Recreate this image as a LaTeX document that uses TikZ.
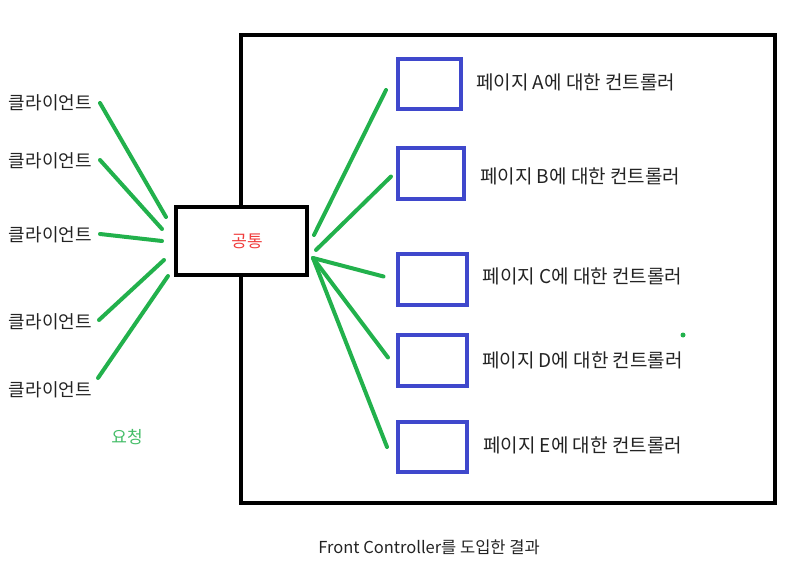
\documentclass[tikz,border=0pt]{standalone}
\usepackage{fontspec}
\setmainfont{Noto Sans CJK KR}
\usetikzlibrary{positioning}

\definecolor{paintgreen}{RGB}{34,177,76}
\definecolor{paintblue}{RGB}{63,72,204}
\definecolor{painttext}{RGB}{35,35,35}
\definecolor{paintred}{RGB}{240,60,60}

\begin{document}
\begin{tikzpicture}[
    x=1pt, y=-1pt,
    every node/.style={font=\fontsize{17}{20}\selectfont, text=painttext},
    client/.style={anchor=east, inner sep=2pt, font=\fontsize{18}{21}\selectfont},
    server/.style={rectangle, draw=black, line width=4pt, minimum width=534pt, minimum height=468pt},
    frontbox/.style={rectangle, draw=black, fill=white, line width=4pt, minimum width=131pt, minimum height=68pt},
    ctrl/.style={rectangle, draw=paintblue, line width=4pt, minimum width=69pt, minimum height=51pt},
    ctrllabel/.style={anchor=west, inner sep=0pt, font=\fontsize{19}{22}\selectfont},
    request/.style={draw=paintgreen, line width=4pt, line cap=round}
]
\useasboundingbox (0,0) rectangle (794,575);

% 서버 영역
\node[server] (server) at (508,269) {};

% 공통 처리
\node[frontbox] (common) at (241.5,241) {};
\node[text=paintred] (commonlabel) at (247,241) {공통};

% 클라이언트
\node[client] (c1) at (94,103) {클라이언트};
\node[client] (c2) at (94,161) {클라이언트};
\node[client] (c3) at (94,235) {클라이언트};
\node[client] (c4) at (94,322) {클라이언트};
\node[client] (c5) at (94,390) {클라이언트};
\node[text=paintgreen!85!white] (req) at (127,437) {요청};

% 컨트롤러
\node[ctrl, minimum width=63pt, minimum height=50pt] (ctrlA) at (429.5,84) {};
\node[ctrl, minimum width=66pt] (ctrlB) at (431,173.5) {};
\node[ctrl] (ctrlC) at (432,279.5) {};
\node[ctrl] (ctrlD) at (432.5,360.5) {};
\node[ctrl, minimum height=50pt] (ctrlE) at (432.5,447) {};

\node[ctrllabel, right=13pt of ctrlA, yshift=2pt] (labelA) {페이지 A에 대한 컨트롤러};
\node[ctrllabel, right=14pt of ctrlB, yshift=-3pt] (labelB) {페이지 B에 대한 컨트롤러};
\node[ctrllabel, right=14pt of ctrlC, yshift=3pt] (labelC) {페이지 C에 대한 컨트롤러};
\node[ctrllabel, right=13pt of ctrlD] (labelD) {페이지 D에 대한 컨트롤러};
\node[ctrllabel, right=14pt of ctrlE, yshift=2pt] (labelE) {페이지 E에 대한 컨트롤러};

\fill[paintgreen] (683,335) circle (2.5);

% 요청 흐름
\draw[request] ([shift={(6,0)}]c1.east) -- ([shift={(-8,-24)}]common.west);
\draw[request] ([shift={(6,-1)}]c2.east) -- ([shift={(-12,-12)}]common.west);
\draw[request] ([shift={(6,-1)}]c3.east) -- ([shift={(-12,0)}]common.west);
\draw[request] ([shift={(5,-2)}]c4.east) -- ([shift={(-10,19)}]common.west);
\draw[request] ([shift={(4,-12)}]c5.east) -- ([shift={(-6,35)}]common.west);

\draw[request] ([shift={(5,-6)}]common.east) -- ([shift={(-10,6)}]ctrlA.west);
\draw[request] ([shift={(7,9)}]common.east) -- ([shift={(-5,3)}]ctrlB.west);
\draw[request] ([shift={(4,17)}]common.east) -- ([shift={(-12,-3)}]ctrlC.west);
\draw[request] ([shift={(4,17)}]common.east) -- ([shift={(-8,-3)}]ctrlD.west);
\draw[request] ([shift={(4,17)}]common.east) -- ([shift={(-9,0)}]ctrlE.west);

% 설명
\node[font=\fontsize{16.5}{19}\selectfont] (caption) at (429,547) {Front Controller를 도입한 결과};

\end{tikzpicture}
\end{document}
